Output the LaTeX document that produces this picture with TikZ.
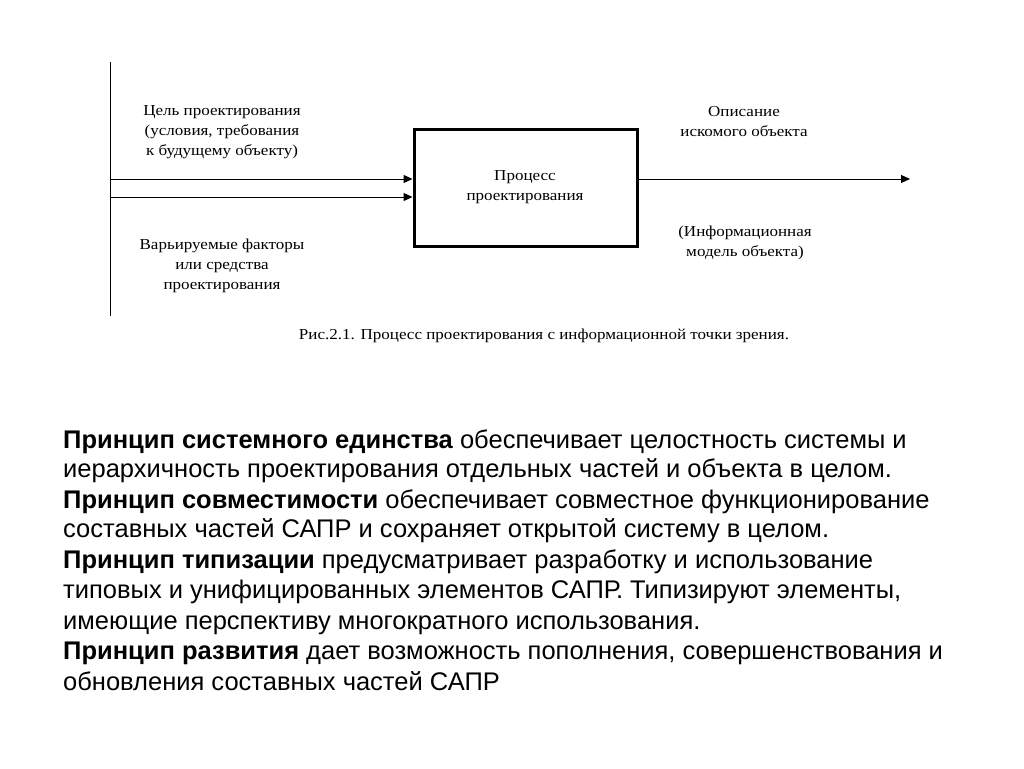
\documentclass[tikz,border=0pt]{standalone}
\usepackage{fontspec}
\setmainfont{Liberation Sans}
\newfontfamily\diagfont[FakeStretch=1.12]{Liberation Serif}
\usetikzlibrary{arrows.meta}
\begin{document}
\begin{tikzpicture}[x=1pt,y=-1pt,
  dlabel/.style={font=\diagfont\fontsize{15.2}{20}\selectfont, align=center, inner sep=0pt},
  bodyline/.style={font=\fontsize{25.5}{30}\selectfont, anchor=base west, inner sep=0pt},
  flow/.style={line width=1pt, -{Triangle[length=9pt,width=8pt]}},
  procbox/.style={draw, line width=3pt, minimum width=223pt, minimum height=117pt, inner sep=0pt}
]
\useasboundingbox (0,0) rectangle (1024,768);
\fill[white] (0,0) rectangle (1024,768);
% vertical frame line
\coordinate (vtop) at (110,62);
\coordinate (vbot) at (110,316);
\draw[line width=1pt] (vtop) -- (vbot);
% process box
\node[procbox] (box) at (525.5,187.5) {};
\node[dlabel] (boxtxt) at (525,187) {Процесс\\проектирования};
% inputs
\coordinate (in1) at (110,179);
\coordinate (in2) at (110,197);
\draw[flow] (in1) -- (in1 -| box.west);
\draw[flow] (in2) -- (in2 -| box.west);
% output
\coordinate (out) at (910,179);
\draw[flow] (box.east |- out) -- (out);
% labels
\node[dlabel] (goal) at (222,132) {Цель проектирования\\(условия, требования\\к будущему объекту)};
\node[dlabel] (vary) at (222,266) {Варьируемые факторы\\или средства\\проектирования};
\node[dlabel] (desc) at (744,122) {Описание\\искомого объекта};
\node[dlabel] (model) at (745,243) {(Информационная\\модель объекта)};
\node[dlabel] (caption) at (544,336) {Рис.2.1. Процесс проектирования с информационной точки зрения.};
% body text
\node[bodyline] (l1) at (63,448) {\textbf{Принцип системного единства} обеспечивает целостность системы и};
\node[bodyline] (l2) at (63,477) {иерархичность проектирования отдельных частей и объекта в целом.};
\node[bodyline] (l3) at (63,508) {\textbf{Принцип совместимости} обеспечивает совместное функционирование};
\node[bodyline] (l4) at (63,537) {составных частей САПР и сохраняет открытой систему в целом.};
\node[bodyline] (l5) at (63,568) {\textbf{Принцип типизации} предусматривает разработку и использование};
\node[bodyline] (l6) at (63,598) {типовых и унифицированных элементов САПР. Типизируют элементы,};
\node[bodyline] (l7) at (63,629) {имеющие перспективу многократного использования.};
\node[bodyline] (l8) at (63,659) {\textbf{Принцип развития} дает возможность пополнения, совершенствования и};
\node[bodyline] (l9) at (63,690) {обновления составных частей САПР};
\end{tikzpicture}
\end{document}
